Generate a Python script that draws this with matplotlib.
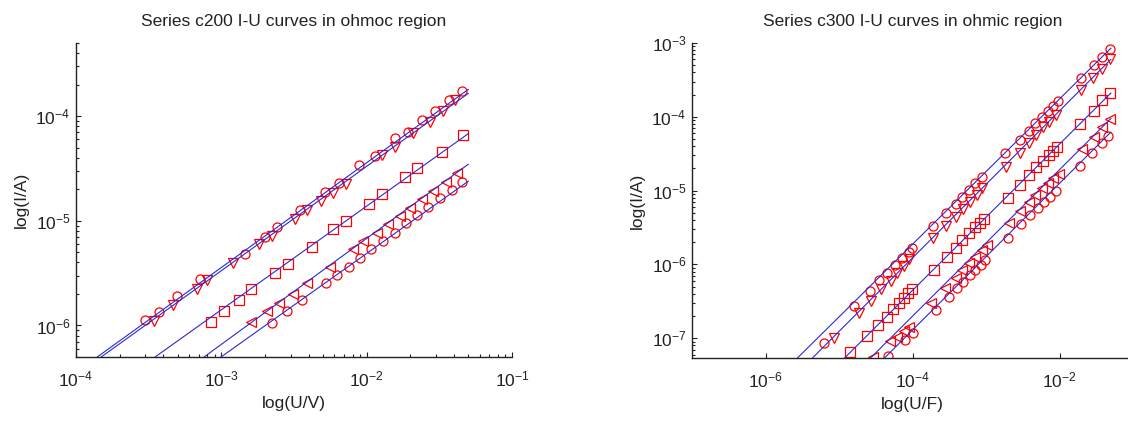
import matplotlib
matplotlib.use("Agg")
import matplotlib.pyplot as plt
from matplotlib.ticker import NullLocator, FixedLocator, LogFormatterSciNotation

plt.rcParams['font.family'] = ['Liberation Sans', 'DejaVu Sans']
plt.rcParams['mathtext.fontset'] = 'custom'
plt.rcParams['mathtext.rm'] = 'Liberation Sans'
plt.rcParams['mathtext.it'] = 'Liberation Sans:italic'
plt.rcParams['mathtext.default'] = 'regular'

# ---------------- Left panel: series c200 ----------------
c200_circ1_U = [2.99e-4, 3.75e-4, 4.98e-4, 7.12e-4, 1.46e-3, 2.0e-3, 2.43e-3, 3.48e-3, 5.2e-3, 6.43e-3,
                8.91e-3, 1.14e-2, 1.57e-2, 1.92e-2, 2.39e-2, 2.96e-2, 3.69e-2, 4.56e-2]
c200_circ1_I = [1.12e-6, 1.36e-6, 1.91e-6, 2.80e-6, 4.85e-6, 7.06e-6, 8.79e-6, 1.27e-5, 1.9e-5, 2.28e-5,
                3.4e-5, 4.17e-5, 6.16e-5, 7.08e-5, 9.16e-5, 1.11e-4, 1.42e-4, 1.75e-4]
c200_tri_U = [3.46e-4, 4.68e-4, 6.76e-4, 7.92e-4, 1.2e-3, 1.83e-3, 2.22e-3, 3.21e-3, 3.91e-3, 4.83e-3,
              5.9e-3, 7.21e-3, 1.27e-2, 1.57e-2, 2.1e-2, 2.73e-2, 3.34e-2, 4.05e-2]
c200_tri_I = [1.1e-6, 1.57e-6, 2.24e-6, 2.75e-6, 3.98e-6, 5.96e-6, 7.16e-6, 1.03e-5, 1.27e-5, 1.55e-5,
              1.86e-5, 2.24e-5, 4.24e-5, 5.09e-5, 6.98e-5, 8.89e-5, 1.12e-4, 1.42e-4]
c200_sq_U = [8.45e-4, 1.05e-3, 1.32e-3, 1.6e-3, 2.35e-3, 2.88e-3, 4.19e-3, 5.83e-3, 7.21e-3, 1.04e-2,
             1.27e-2, 1.84e-2, 2.23e-2, 3.29e-2, 4.58e-2]
c200_sq_I = [1.08e-6, 1.39e-6, 1.77e-6, 2.21e-6, 3.19e-6, 3.89e-6, 5.62e-6, 8.29e-6, 9.96e-6, 1.46e-5,
             1.82e-5, 2.65e-5, 3.18e-5, 4.59e-5, 6.58e-5]
c200_ltri_U = [1.59e-3, 2.05e-3, 2.49e-3, 3.13e-3, 3.87e-3, 5.6e-3, 8.1e-3, 9.51e-3, 1.17e-2, 1.41e-2,
               1.7e-2, 1.99e-2, 2.39e-2, 2.88e-2, 3.5e-2, 4.17e-2]
c200_ltri_I = [1.08e-6, 1.37e-6, 1.65e-6, 2.02e-6, 2.56e-6, 3.64e-6, 5.33e-6, 6.41e-6, 7.7e-6, 9.4e-6,
               1.11e-5, 1.34e-5, 1.61e-5, 1.93e-5, 2.37e-5, 2.89e-5]
c200_circ2_U = [2.24e-3, 2.82e-3, 3.61e-3, 5.22e-3, 6.22e-3, 7.54e-3, 9.02e-3, 1.07e-2, 1.3e-2, 1.57e-2,
                1.86e-2, 2.23e-2, 2.66e-2, 3.2e-2, 3.85e-2, 4.56e-2]
c200_circ2_I = [1.06e-6, 1.37e-6, 1.77e-6, 2.56e-6, 3.01e-6, 3.61e-6, 4.41e-6, 5.33e-6, 6.41e-6, 7.7e-6,
                9.46e-6, 1.13e-5, 1.36e-5, 1.64e-5, 1.97e-5, 2.37e-5]
# fitted lines (start, end)
c200_fit_U = [[1.40e-4, 5e-2], [1.49e-4, 5e-2], [3.5e-4, 5e-2], [7.6e-4, 5e-2], [9.95e-4, 5e-2]]
c200_fit_I = [[5e-7, 1.80e-4], [5e-7, 1.65e-4], [5e-7, 6.8e-5], [5e-7, 3.47e-5], [5e-7, 2.39e-5]]

# ---------------- Right panel: series c300 ----------------
c300_circ1_U = [6.2e-6, 1.59e-5, 2.63e-5, 3.48e-5, 4.52e-5, 5.69e-5, 7.24e-5, 8.92e-5, 9.9e-5, 1.91e-4,
                2.9e-4, 3.85e-4, 4.74e-4, 5.84e-4, 7.19e-4, 8.69e-4, 1.84e-3, 2.88e-3, 3.83e-3, 4.71e-3,
                5.81e-3, 6.93e-3, 8.2e-3, 9.49e-3, 1.97e-2, 2.93e-2, 3.8e-2, 4.84e-2]
c300_circ1_I = [8.6e-8, 2.73e-7, 4.36e-7, 6.15e-7, 7.73e-7, 9.82e-7, 1.21e-6, 1.49e-6, 1.65e-6, 3.35e-6,
                5.02e-6, 6.52e-6, 8.28e-6, 1.02e-5, 1.25e-5, 1.55e-5, 3.2e-5, 4.85e-5, 6.43e-5, 8.32e-5,
                1.0e-4, 1.21e-4, 1.4e-4, 1.66e-4, 3.32e-4, 5.04e-4, 6.53e-4, 8.2e-4]
c300_tri_U = [8.55e-6, 1.86e-5, 2.74e-5, 3.75e-5, 5.02e-5, 6.18e-5, 7.62e-5, 8.92e-5, 1.91e-4, 2.9e-4,
              3.85e-4, 4.89e-4, 6.15e-4, 7.43e-4, 8.87e-4, 1.9e-3, 2.88e-3, 3.83e-3, 4.86e-3, 6.0e-3,
              7.16e-3, 8.83e-3, 1.97e-2, 2.87e-2, 3.8e-2, 4.84e-2]
c300_tri_I = [1.0e-7, 2.17e-7, 3.19e-7, 4.59e-7, 5.95e-7, 7.57e-7, 9.51e-7, 1.17e-6, 2.25e-6, 3.31e-6,
              4.43e-6, 5.57e-6, 7.08e-6, 8.71e-6, 1.07e-5, 2.11e-5, 3.2e-5, 4.37e-5, 5.67e-5, 7.2e-5,
              8.59e-5, 1.06e-4, 2.3e-4, 3.32e-4, 4.4e-4, 6.0e-4]
c300_sq_U = [1.43e-5, 2.42e-5, 3.37e-5, 4.43e-5, 5.46e-5, 6.52e-5, 7.62e-5, 8.73e-5, 9.9e-5, 1.95e-4,
             2.96e-4, 3.85e-4, 4.74e-4, 5.84e-4, 6.98e-4, 8.25e-4, 9.33e-4, 1.98e-3, 2.94e-3, 3.83e-3,
             4.86e-3, 6.0e-3, 7.16e-3, 8.2e-3, 9.29e-3, 1.89e-2, 2.93e-2, 3.8e-2, 4.84e-2]
c300_sq_I = [6.5e-8, 1.07e-7, 1.51e-7, 1.96e-7, 2.46e-7, 2.97e-7, 3.47e-7, 4.06e-7, 4.59e-7, 8.4e-7,
             1.27e-6, 1.65e-6, 2.14e-6, 2.64e-6, 3.18e-6, 3.68e-6, 4.08e-6, 7.86e-6, 1.19e-5, 1.63e-5,
             2.06e-5, 2.55e-5, 3.04e-5, 3.47e-5, 3.94e-5, 7.98e-5, 1.21e-4, 1.69e-4, 2.08e-4]
c300_ltri_U = [2.94e-5, 4.92e-5, 6.18e-5, 7.62e-5, 8.92e-5, 1.76e-4, 2.81e-4, 3.85e-4, 4.74e-4, 5.84e-4,
               7.19e-4, 8.87e-4, 1.04e-3, 2.05e-3, 2.94e-3, 3.83e-3, 4.71e-3, 5.81e-3, 6.93e-3, 8.2e-3,
               9.79e-3, 2.03e-2, 2.93e-2, 3.8e-2, 4.84e-2]
c300_ltri_I = [5.6e-8, 9.27e-8, 1.05e-7, 1.27e-7, 1.43e-7, 3.03e-7, 4.74e-7, 6.61e-7, 8.4e-7, 1.03e-6,
               1.27e-6, 1.57e-6, 1.83e-6, 3.6e-6, 5.35e-6, 7.08e-6, 8.71e-6, 1.07e-5, 1.28e-5, 1.47e-5,
               1.68e-5, 3.62e-5, 5.27e-5, 7.2e-5, 9.24e-5]
c300_circ2_U = [4.71e-5, 8.03e-5, 1.02e-4, 2.06e-4, 3.12e-4, 3.97e-4, 4.89e-4, 6.02e-4, 7.19e-4, 8.42e-4,
                9.84e-4, 1.98e-3, 3.01e-3, 3.95e-3, 5.07e-3, 6.12e-3, 7.38e-3, 8.83e-3, 1.89e-2, 2.78e-2,
                3.8e-2, 4.59e-2]
c300_circ2_I = [5.8e-8, 9.46e-8, 1.16e-7, 2.41e-7, 3.65e-7, 4.74e-7, 5.84e-7, 7.18e-7, 8.4e-7, 9.82e-7,
                1.15e-6, 2.25e-6, 3.52e-6, 4.67e-6, 5.75e-6, 7.08e-6, 8.28e-6, 9.97e-6, 2.15e-5, 3.27e-5,
                4.47e-5, 5.5e-5]
c300_fit_U = [[2.72e-6, 5e-2], [4.35e-6, 5e-2], [1.19e-5, 5e-2], [2.69e-5, 5e-2], [4.16e-5, 5e-2]]
c300_fit_I = [[5.4e-8, 8.5e-4], [5.4e-8, 6.0e-4], [5.4e-8, 2.1e-4], [5.4e-8, 9.5e-5], [5.4e-8, 6.2e-5]]

W, H = 1128, 421
fig = plt.figure(figsize=(W / 100, H / 100), dpi=100)

line_col = '#2a2ad0'
mk_col = '#ff0000'
ms = 6.5
txt_col = '#222222'


def minor_list(e0, e1):
    return [m * 10.0 ** e for e in range(e0, e1) for m in range(2, 10)]


def px_axes(x0, x1, y0, y1):
    return fig.add_axes([x0 / W, 1 - y1 / H, (x1 - x0) / W, (y1 - y0) / H])


def style(ax):
    ax.set_xscale('log')
    ax.set_yscale('log')
    for s in ['top', 'right']:
        ax.spines[s].set_visible(False)
    for s in ['left', 'bottom']:
        ax.spines[s].set_linewidth(1.0)
        ax.spines[s].set_color(txt_col)
    ax.tick_params(which='both', direction='in', colors=txt_col, labelsize=12.5, labelcolor=txt_col)
    ax.tick_params(which='major', length=3.5, width=0.8)
    ax.tick_params(which='minor', length=2.0, width=0.8)
    ax.tick_params(axis='x', which='both', pad=9)
    ax.tick_params(axis='y', which='both', pad=4)
    ax.set_facecolor('white')


def draw(ax, series, fits_U, fits_I):
    for U, I in zip(fits_U, fits_I):
        ax.plot(U, I, '-', color=line_col, lw=0.8, zorder=3)
    for U, I, m in series:
        ax.plot(U, I, linestyle='none', marker=m, ms=ms, mfc='none', mec=mk_col, mew=0.9, zorder=2)


# Left
ax1 = px_axes(76, 512, 43, 357)
style(ax1)
draw(ax1, [(c200_circ1_U, c200_circ1_I, 'o'), (c200_tri_U, c200_tri_I, 'v'),
           (c200_sq_U, c200_sq_I, 's'), (c200_ltri_U, c200_ltri_I, '<'),
           (c200_circ2_U, c200_circ2_I, 'o')], c200_fit_U, c200_fit_I)
ax1.xaxis.set_major_locator(FixedLocator([1e-4, 1e-3, 1e-2, 1e-1]))
ax1.xaxis.set_minor_locator(FixedLocator(minor_list(-4, -1)))
ax1.yaxis.set_major_locator(FixedLocator([1e-6, 1e-5, 1e-4]))
ax1.yaxis.set_minor_locator(FixedLocator(minor_list(-7, -3)))
ax1.xaxis.set_major_formatter(LogFormatterSciNotation())
ax1.yaxis.set_major_formatter(LogFormatterSciNotation())
ax1.set_xlim(1e-4, 1e-1)
ax1.set_ylim(5e-7, 5e-4)
ax1.set_title('Series c200 I-U curves in ohmoc region', fontsize=12.5, color=txt_col, pad=12)
ax1.set_xlabel('log(U/V)', fontsize=12.5, color=txt_col, labelpad=5)
ax1.set_ylabel('log(I/A)', fontsize=12.5, color=txt_col, labelpad=5)

# Right
ax2 = px_axes(692, 1133, 43, 358)
style(ax2)
draw(ax2, [(c300_circ1_U, c300_circ1_I, 'o'), (c300_tri_U, c300_tri_I, 'v'),
           (c300_sq_U, c300_sq_I, 's'), (c300_ltri_U, c300_ltri_I, '<'),
           (c300_circ2_U, c300_circ2_I, 'o')], c300_fit_U, c300_fit_I)
ax2.xaxis.set_major_locator(FixedLocator([1e-6, 1e-4, 1e-2]))
ax2.xaxis.set_minor_locator(NullLocator())
ax2.yaxis.set_major_locator(FixedLocator([1e-7, 1e-6, 1e-5, 1e-4, 1e-3]))
ax2.yaxis.set_minor_locator(FixedLocator(minor_list(-8, -3)))
ax2.xaxis.set_major_formatter(LogFormatterSciNotation())
ax2.yaxis.set_major_formatter(LogFormatterSciNotation())
ax2.set_xlim(1e-7, 1e-1)
ax2.set_ylim(5.4e-8, 1e-3)
ax2.set_title('Series c300 I-U curves in ohmic region', fontsize=12.5, color=txt_col, pad=12)
ax2.set_xlabel('log(U/F)', fontsize=12.5, color=txt_col, labelpad=5)
ax2.set_ylabel('log(I/A)', fontsize=12.5, color=txt_col, labelpad=5)

fig.savefig('out.png', dpi=100, facecolor='white')
